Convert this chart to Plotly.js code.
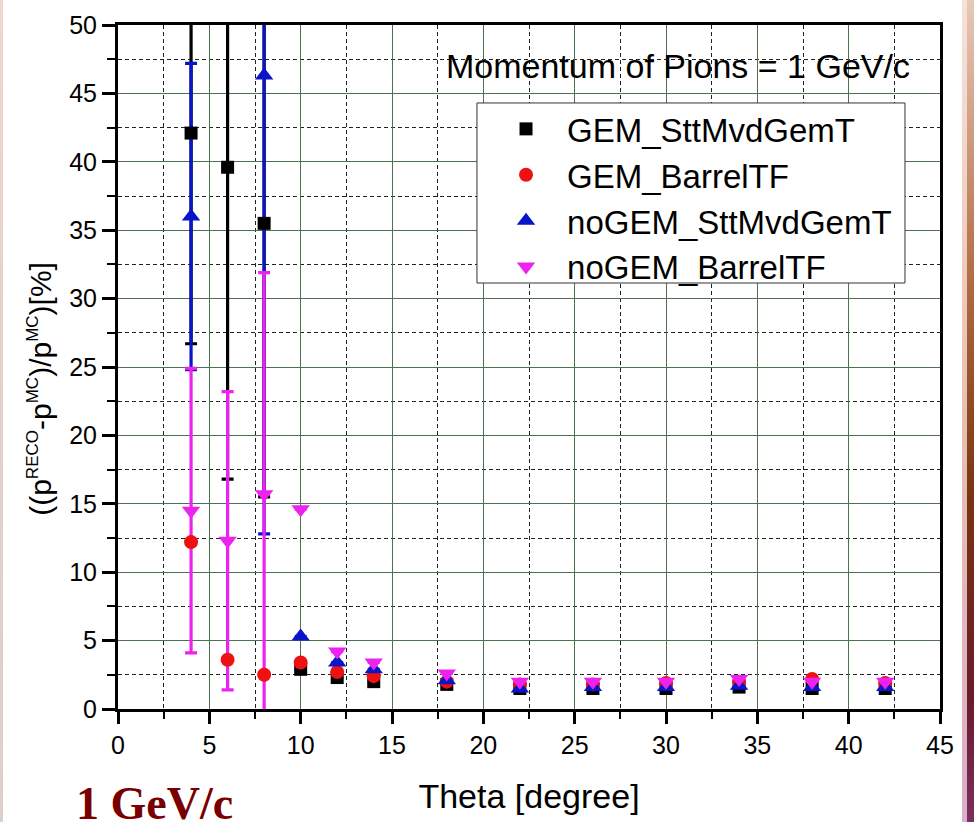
<!DOCTYPE html>
<html>
<head>
<meta charset="utf-8">
<script src="https://cdn.plot.ly/plotly-3.0.1.min.js"></script>
<style>
  html, body { margin: 0; padding: 0; background: #ffffff; }
  #wrap { position: relative; width: 974px; height: 822px; overflow: hidden; }
  #chart { position: absolute; left: 0; top: 0; width: 974px; height: 822px; }
  .edgeL { position: absolute; left: 0; top: 0; width: 3px; height: 822px;
           background: linear-gradient(#f0d6d0, #e3cfcb 50%, #ddd0cc); z-index: 5; }
  .edgeR1 { position: absolute; left: 962px; top: 0; width: 5px; height: 822px;
           background: linear-gradient(#f6e2da, #e8c0b0 50%, #d8b0c8); z-index: 5; }
  .edgeR2 { position: absolute; left: 967px; top: 0; width: 7px; height: 822px;
           background: linear-gradient(#e8c8b8, #b06a40 35%, #7a3410 60%, #6a1a2a 85%, #7a3060); z-index: 5; }
</style>
</head>
<body>
<div id="wrap">
  <div id="chart"></div>
  <div class="edgeL"></div>
  <div class="edgeR1"></div>
  <div class="edgeR2"></div>
</div>
<script>
// ---- data ----
const theta = [4, 6, 8, 10, 12, 14, 18, 22, 26, 30, 34, 38, 42];

const gemStt       = [42.1, 39.6, 35.5, 2.9, 2.3, 2.0, 1.8, 1.5, 1.5, 1.5, 1.6, 1.5, 1.5];
const gemSttErr    = [15.4, 22.8, 20.0, 0, 0, 0, 0, 0, 0, 0, 0, 0, 0];

const gemBarrel    = [12.2, 3.6, 2.5, 3.4, 2.7, 2.4, 2.0, 1.8, 1.8, 1.9, 2.0, 2.2, 1.9];
const gemBarrelErr = [0, 0, 0, 0, 0, 0, 0, 0, 0, 0, 0, 0, 0];

const noGemStt     = [36.0, null, 46.3, 5.3, 3.4, 2.9, 2.1, 1.5, 1.6, 1.6, 1.7, 1.6, 1.6];
const noGemSttErr  = [11.2, 0, 33.5, 0, 0, 0, 0, 0, 0, 0, 0, 0, 0];

const noGemBarrel    = [14.5, 12.3, 15.7, 14.6, 4.2, 3.4, 2.6, 2.0, 2.0, 2.0, 2.2, 2.0, 2.0];
const noGemBarrelErr = [10.4, 10.9, 16.2, 0, 0, 0, 0, 0, 0, 0, 0, 0, 0];

const seriesNames = ["GEM_SttMvdGemT", "GEM_BarrelTF", "noGEM_SttMvdGemT", "noGEM_BarrelTF"];
const xTickVals = [0, 5, 10, 15, 20, 25, 30, 35, 40, 45];
const yTickVals = [0, 5, 10, 15, 20, 25, 30, 35, 40, 45, 50];

// ---- styles ----
const colors  = ["#000000", "#ee1111", "#0a14c8", "#ee22ee"];
const symbols = ["square", "circle", "triangle-up", "triangle-down"];
const sizes   = [13, 14, 16, 16];
const yData   = [gemStt, gemBarrel, noGemStt, noGemBarrel];
const yErr    = [gemSttErr, gemBarrelErr, noGemSttErr, noGemBarrelErr];

const FONT = "Arial, 'Liberation Sans', sans-serif";
const traces = [];
// error bars first (under all markers)
for (let i = 0; i < 4; i++) {
  traces.push({
    type: "scatter", mode: "markers", x: theta, y: yData[i],
    marker: { size: 1, color: "rgba(0,0,0,0)" },
    error_y: { type: "data", array: yErr[i], symmetric: true, visible: true,
               color: colors[i], thickness: 3.2, width: 6 },
    showlegend: false, hoverinfo: "skip"
  });
}
// markers
for (let i = 0; i < 4; i++) {
  traces.push({
    type: "scatter", mode: "markers", name: seriesNames[i], x: theta, y: yData[i],
    marker: { symbol: symbols[i], size: sizes[i], color: colors[i], line: { width: 0 } }
  });
}

const majorGrid = "#4f704f";
const minorGrid = "#222222";
const supS = (t) => "<sup><span style='font-size:17px'>" + t + "</span></sup>";
const yTitle = "((p" + supS("RECO") + "-p" + supS("MC") + ")/p" + supS("MC") + ")[%]";

const layout = {
  width: 974, height: 822,
  margin: { l: 118, r: 34, t: 25, b: 113 },
  paper_bgcolor: "rgba(0,0,0,0)",
  plot_bgcolor: "#ffffff",
  font: { family: FONT, color: "#000" },
  showlegend: true,
  legend: {
    x: 0.4465, y: 0.889, xanchor: "left", yanchor: "top",
    bgcolor: "rgba(0,0,0,0)", borderwidth: 0,
    font: { family: FONT, size: 33, color: "#000" },
    itemwidth: 72, tracegroupgap: 0
  },
  shapes: [
    { type: "rect", xref: "paper", yref: "paper", layer: "above",
      x0: 0.4367, x1: 0.9574, y0: 0.6228, y1: 0.886,
      fillcolor: "#ffffff", line: { color: "#333333", width: 1 } }
  ],
  xaxis: {
    range: [0, 45], tickvals: xTickVals, ticktext: xTickVals.map(String),
    showline: true, linecolor: "#000", linewidth: 3, mirror: true,
    ticks: "outside", ticklen: 12, tickwidth: 3, tickcolor: "#000",
    tickfont: { family: FONT, size: 25, color: "#000" },
    showgrid: true, gridcolor: majorGrid, gridwidth: 1, zeroline: false,
    minor: { dtick: 2.5, tick0: 0, ticks: "outside", ticklen: 7, tickwidth: 2, tickcolor: "#000",
             showgrid: true, gridcolor: minorGrid, gridwidth: 1, griddash: "4px,3px" },
    title: { text: "Theta [degree]", font: { family: FONT, size: 34, color: "#000" }, standoff: 27 }
  },
  yaxis: {
    range: [0, 50], tickvals: yTickVals, ticktext: yTickVals.map(String),
    showline: true, linecolor: "#000", linewidth: 3, mirror: true,
    ticks: "outside", ticklen: 13, tickwidth: 3, tickcolor: "#000",
    tickfont: { family: FONT, size: 25, color: "#000" },
    showgrid: true, gridcolor: majorGrid, gridwidth: 1, zeroline: false,
    minor: { dtick: 2.5, tick0: 0, ticks: "outside", ticklen: 8, tickwidth: 2, tickcolor: "#000",
             showgrid: true, gridcolor: minorGrid, gridwidth: 1, griddash: "4px,3px" }
  },
  annotations: [
    { xref: "paper", yref: "paper", x: -0.095, y: 0.468, xanchor: "center", yanchor: "middle",
      textangle: -90, text: yTitle, showarrow: false,
      font: { family: FONT, size: 30, color: "#000" } },
    { xref: "paper", yref: "paper", x: 0.966, y: 0.940, xanchor: "right", yanchor: "middle",
      text: "Momentum of Pions = 1 GeV/c", showarrow: false,
      font: { family: FONT, size: 34, color: "#000" } },
    { xref: "paper", yref: "paper", x: -0.053, y: -0.138, xanchor: "left", yanchor: "middle",
      text: "<b>1 GeV/c</b>", showarrow: false,
      font: { family: "'Liberation Serif', 'Times New Roman', serif", size: 46, color: "#7a0000" } }
  ]
};

Plotly.newPlot("chart", traces, layout, { displayModeBar: false, staticPlot: true });
</script>
</body>
</html>
